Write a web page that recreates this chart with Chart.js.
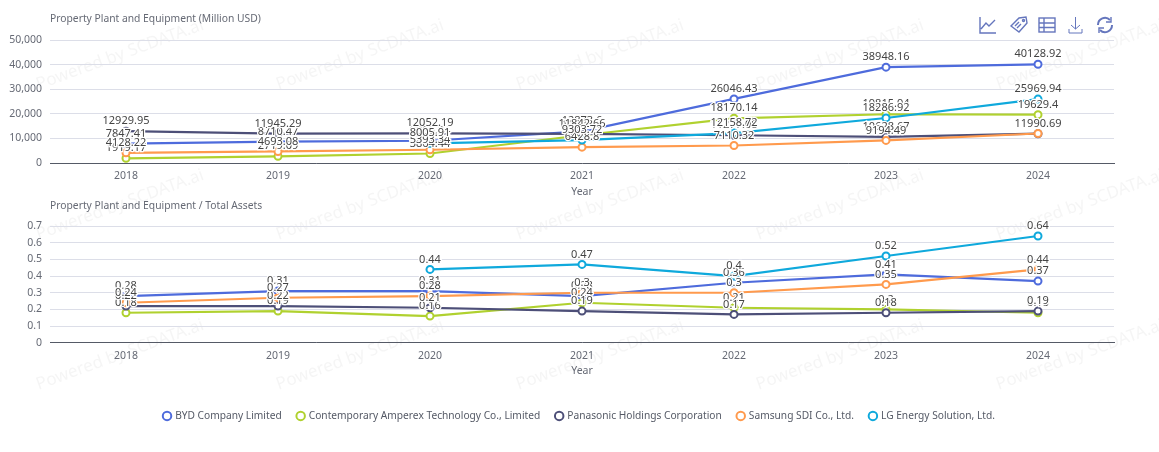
<!DOCTYPE html>
<html>
<head>
<meta charset="utf-8">
<title>Property Plant and Equipment</title>
<script src="https://cdn.jsdelivr.net/npm/chart.js@4/dist/chart.umd.min.js"></script>
<style>
  html, body { margin: 0; padding: 0; background: #fff; }
  #wrap { position: relative; width: 1159px; height: 452px; overflow: hidden; }
  #topBox { position: absolute; left: 0; top: 0; width: 1159px; height: 200px; }
  #bottomBox { position: absolute; left: 0; top: 200px; width: 1159px; height: 252px; }
  #tools { position: absolute; left: 979px; top: 16px; }
</style>
</head>
<body>
<div id="wrap">
  <div id="topBox"><canvas id="ppeChart"></canvas></div>
  <div id="bottomBox"><canvas id="ratioChart"></canvas></div>
  <svg id="tools" width="134" height="20" fill="none" stroke="#6576bd" stroke-width="1.4">
    <path d="M1 1V17H17M2 13L7 7L10 10L16 4"/>
    <g transform="translate(31 0)"><path d="M1 10L9 2L16 1L17 7L9 16Z"/><path d="M5 10L9 6M7 12L11 8"/><circle cx="13.5" cy="4.5" r="1"/></g>
    <g transform="translate(59 0)"><rect x="1" y="2" width="16" height="14"/><path d="M1 7H17M1 11.500H17M6 2V16"/></g>
    <g transform="translate(89 0)"><path d="M1 13V17H14V13M7.500 1V13M3 9L7.500 13L12 9" stroke-width="1"/></g>
    <g transform="translate(117 0)"><path d="M2 9A7 7 0 0 1 14 4M16 9A7 7 0 0 1 4 14" stroke-width="2"/><path d="M15 1V6H10M3 17V12H8" stroke-width="1.4"/></g>
  </svg>
</div>
<script>
// categories
const YEARS = ["2018", "2019", "2020", "2021", "2022", "2023", "2024"];

// Property Plant and Equipment (Million USD)
const PPE_BYD = [7847.41, 8710.47, 9050.34, 12873.6, 26046.43, 38948.16, 40128.92];
const PPE_CATL = [1919.17, 2719.09, 3864.44, 11273.2, 18170.14, 19815.94, 19629.4];
const PPE_PANASONIC = [12929.95, 11945.29, 12052.19, 11842.66, 11277.08, 10628.67, 11910.25];
const PPE_SAMSUNG = [4128.22, 4693.08, 5393.34, 6428.8, 7110.32, 9194.49, 11990.69];
const PPE_LG = [null, null, 8005.91, 9303.72, 12158.72, 18286.92, 25969.94];

// Property Plant and Equipment / Total Assets
const RATIO_BYD = [0.28, 0.31, 0.31, 0.28, 0.36, 0.41, 0.37];
const RATIO_CATL = [0.18, 0.19, 0.16, 0.24, 0.21, 0.2, 0.18];
const RATIO_PANASONIC = [0.22, 0.22, 0.21, 0.19, 0.17, 0.18, 0.19];
const RATIO_SAMSUNG = [0.24, 0.27, 0.28, 0.3, 0.3, 0.35, 0.44];
const RATIO_LG = [null, null, 0.44, 0.47, 0.4, 0.52, 0.64];

const COMPANIES = ["BYD Company Limited", "Contemporary Amperex Technology Co., Limited", "Panasonic Holdings Corporation", "Samsung SDI Co., Ltd.", "LG Energy Solution, Ltd."];
const COLORS = ["#4e6bdc", "#b0d12f", "#4d4f78", "#ff9a4d", "#0fa9dc"];

const FONT = "'Noto Sans', sans-serif";
const WATERMARK = "Powered by SCDATA.ai";

// axis name, watermark and value labels are drawn here since core Chart.js has no option for them
const extrasPlugin = {
    id: "extras",
    beforeDraw(chart, args, opts) {
        const ctx = chart.ctx;
        ctx.save();
        ctx.font = "17px " + FONT;
        ctx.fillStyle = "rgba(120,120,120,0.07)";
        ctx.textAlign = "center";
        ctx.textBaseline = "middle";
        for (let row = -1; row < 4; row++) {
            for (let col = 0; col < 6; col++) {
                ctx.save();
                ctx.translate(120 + col * 240, row * 150 + 55 - opts.offsetY);
                ctx.rotate(-Math.PI / 9);
                ctx.fillText(WATERMARK, 0, 0);
                ctx.restore();
            }
        }
        ctx.restore();
    },
    afterDatasetsDraw(chart, args, opts) {
        const ctx = chart.ctx;
        ctx.save();
        ctx.font = "10.3px " + FONT;
        ctx.fillStyle = "#666a75";
        ctx.textAlign = "left";
        ctx.textBaseline = "middle";
        ctx.fillText(opts.name, 50, opts.nameY);

        ctx.font = "11px " + FONT;
        ctx.textAlign = "center";
        ctx.lineWidth = 2.5;
        ctx.strokeStyle = "#fff";
        ctx.fillStyle = "#444";
        chart.data.datasets.forEach((ds, i) => {
            chart.getDatasetMeta(i).data.forEach((pt, j) => {
                if (ds.data[j] === null) return;
                ctx.strokeText(String(ds.data[j]), pt.x, pt.y - 10);
                ctx.fillText(String(ds.data[j]), pt.x, pt.y - 10);
            });
        });
        ctx.restore();
    }
};

function makeDatasets(seriesList) {
    return seriesList.map((values, i) => ({
        label: COMPANIES[i],
        data: values,
        order: seriesList.length - i,
        yAxisID: "y",
        borderColor: COLORS[i],
        backgroundColor: "#fff",
        pointBackgroundColor: "#fff",
        pointBorderColor: COLORS[i],
        pointBorderWidth: 2,
        pointRadius: 3.5,
        pointStyle: "circle",
        borderWidth: 2.2,
        tension: 0,
        spanGaps: false
    }));
}

function makeOptions(yMax, yStep, xHeight, titleBottom, topPad, bottomPad, name, nameY, offsetY, showLegend, tickFmt) {
    return {
        responsive: false,
        animation: false,
        layout: { padding: { left: 0, right: 0, top: topPad, bottom: bottomPad } },
        plugins: {
            tooltip: { enabled: false },
            legend: {
                display: showLegend,
                position: "bottom",
                labels: {
                    usePointStyle: true,
                    pointStyle: "circle",
                    boxWidth: 6,
                    boxHeight: 6,
                    padding: 16,
                    color: "#555a66",
                    font: { family: FONT, size: 10.2 },
                    sort: (a, b) => a.datasetIndex - b.datasetIndex
                }
            },
            extras: { name: name, nameY: nameY, offsetY: offsetY }
        },
        scales: {
            x: {
                offset: true,
                grid: { display: false, drawTicks: false },
                border: { color: "#555a66", width: 1 },
                ticks: { color: "#666a75", padding: 7, font: { family: FONT, size: 10.5 }, maxRotation: 0 },
                title: {
                    display: true,
                    text: "Year",
                    color: "#666a75",
                    font: { family: FONT, size: 10.5 },
                    padding: { top: 0, bottom: titleBottom }
                },
                afterFit(scale) { scale.height = xHeight; }
            },
            y: {
                min: 0,
                max: yMax,
                grid: { color: "#dcdee8", lineWidth: 1, drawTicks: false },
                border: { display: false },
                ticks: { stepSize: yStep, autoSkip: false, color: "#666a75", padding: 8, font: { family: FONT, size: 10.5 }, callback: tickFmt },
                afterFit(scale) { scale.width = 50; }
            },
            // empty right axis keeps the plot clear of the right margin while the legend stays centred on the page
            spacer: {
                position: "right",
                grid: { display: false, drawTicks: false },
                border: { display: false },
                ticks: { display: false },
                afterFit(scale) { scale.width = 45; }
            }
        }
    };
}

const ppeCanvas = document.getElementById("ppeChart");
ppeCanvas.width = 1159; ppeCanvas.height = 200;
new Chart(ppeCanvas, {
    type: "line",
    data: { labels: YEARS, datasets: makeDatasets([PPE_BYD, PPE_CATL, PPE_PANASONIC, PPE_SAMSUNG, PPE_LG]) },
    options: makeOptions(50000, 10000, 37, 2, 40, 0, "Property Plant and Equipment (Million USD)", 19, 0, false, v => v.toLocaleString("en-US")),
    plugins: [extrasPlugin]
});

const ratioCanvas = document.getElementById("ratioChart");
ratioCanvas.width = 1159; ratioCanvas.height = 252;
new Chart(ratioCanvas, {
    type: "line",
    data: { labels: YEARS, datasets: makeDatasets([RATIO_BYD, RATIO_CATL, RATIO_PANASONIC, RATIO_SAMSUNG, RATIO_LG]) },
    options: makeOptions(0.7, 0.1, 52, 17, 26, 21, "Property Plant and Equipment / Total Assets", 6, 200, true, v => Number(v.toFixed(1))),
    plugins: [extrasPlugin]
});
</script>
</body>
</html>
